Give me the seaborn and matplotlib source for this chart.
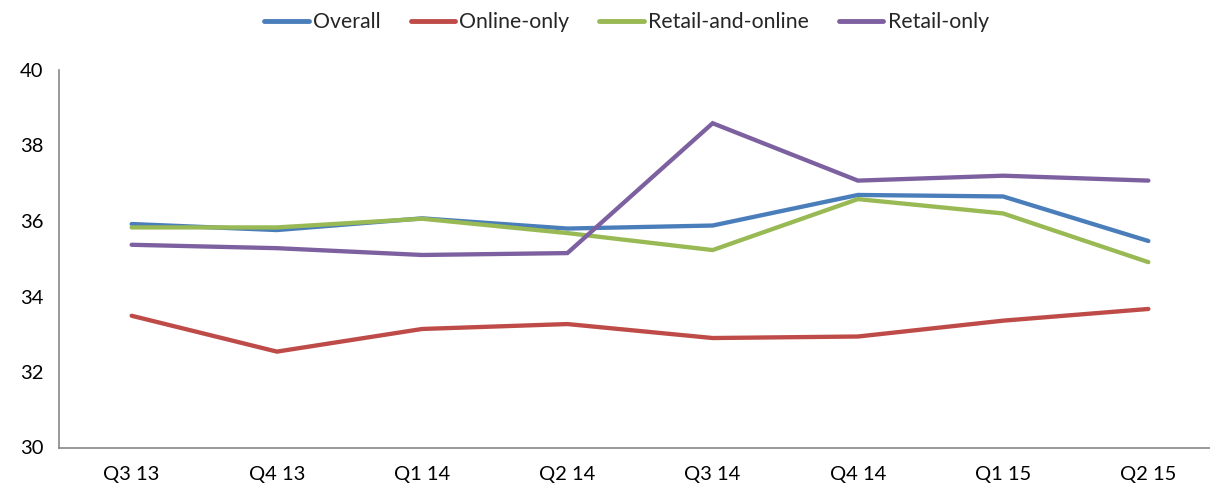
import matplotlib
matplotlib.use("Agg")
import matplotlib.pyplot as plt
import seaborn as sns
import pandas as pd

quarters = ["Q3 13", "Q4 13", "Q1 14", "Q2 14", "Q3 14", "Q4 14", "Q1 15", "Q2 15"]
overall = [35.92, 35.76, 36.07, 35.80, 35.88, 36.69, 36.65, 35.47]
online_only = [33.49, 32.54, 33.14, 33.27, 32.90, 32.94, 33.36, 33.67]
retail_and_online = [35.83, 35.83, 36.06, 35.68, 35.23, 36.58, 36.20, 34.91]
retail_only = [35.37, 35.28, 35.10, 35.15, 38.59, 37.07, 37.20, 37.07]

series_names = ["Overall", "Online-only", "Retail-and-online", "Retail-only"]
series_values = [overall, online_only, retail_and_online, retail_only]
colors = ["#4A7EBB", "#BE4B48", "#98B954", "#7D60A0"]

rows = []
for name, vals in zip(series_names, series_values):
    for i, (q, v) in enumerate(zip(quarters, vals)):
        rows.append({"pos": i, "quarter": q, "series": name, "value": v})
df = pd.DataFrame(rows)

sns.set_style("white")
plt.rcParams["font.family"] = ["Lato", "DejaVu Sans"]

fig = plt.figure(figsize=(12.1, 4.91), dpi=100)
W, H = 1210, 491
left, right, top, bottom = 59, 1221, 70, 447.5
ax = fig.add_axes([left / W, 1 - bottom / H, (right - left) / W, (bottom - top) / H])

sns.lineplot(data=df, x="pos", y="value", hue="series", hue_order=series_names,
             palette=colors, linewidth=3.1, ax=ax, legend=False,
             solid_capstyle="round", solid_joinstyle="miter")

ax.set_xlim(-0.5, len(quarters) - 0.5)
ax.set_ylim(30, 40)
ax.set_yticks([30, 32, 34, 36, 38, 40])
ax.set_xticks(range(len(quarters)))
ax.set_xticklabels(quarters)
ax.set_xlabel("")
ax.set_ylabel("")

# category boundaries carry the tick marks; labels sit in the middle
ax.set_xticks([i - 0.5 for i in range(len(quarters) + 1)], minor=True)
ax.tick_params(axis="x", which="major", length=0, pad=13, labelsize=14.5, colors="black")
ax.tick_params(axis="x", which="minor", length=6, width=1, color="#888888", direction="out")
ax.tick_params(axis="y", length=6, width=1, color="#888888", direction="out",
               labelsize=14.5, pad=5, labelcolor="black")

for side in ["top", "right"]:
    ax.spines[side].set_visible(False)
for side in ["left", "bottom"]:
    ax.spines[side].set_color("#888888")
    ax.spines[side].set_linewidth(1.2)

handles = [plt.Line2D([], [], color=c, lw=3.5, solid_capstyle="round") for c in colors]
fig.legend(handles, series_names, loc="center", bbox_to_anchor=(626.5 / W, 1 - 22 / H),
           ncol=4, frameon=False, fontsize=15.3, handlelength=2.1, handletextpad=0.2,
           columnspacing=1.4)

fig.savefig("out.png", dpi=100)
